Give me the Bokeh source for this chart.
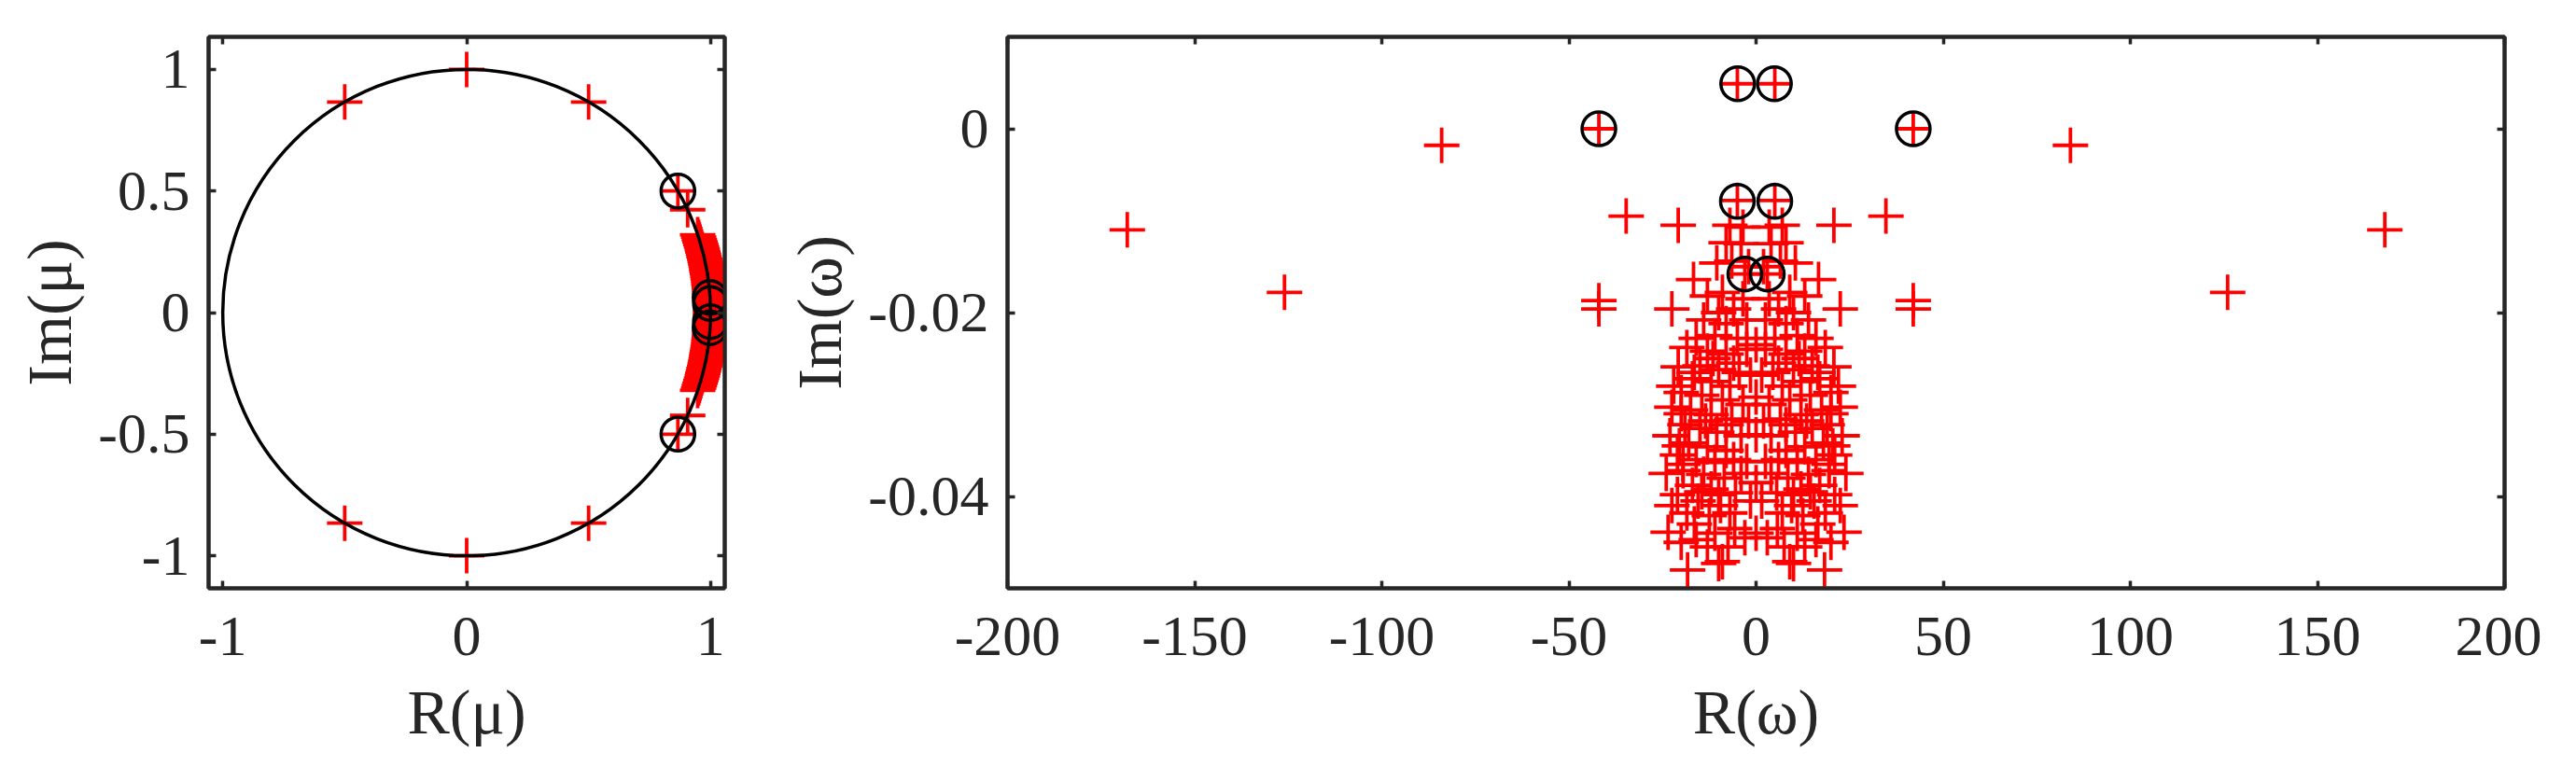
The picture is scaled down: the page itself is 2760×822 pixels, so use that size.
from bokeh.plotting import figure
from bokeh.layouts import row
from bokeh.models import Range1d, FixedTicker, LinearAxis, CustomLabelingPolicy
from bokeh.embed import file_html
from bokeh.resources import INLINE

# ---------------- data: left panel (mu plane) ----------------
mu_plus_re = [0.0, 0.0, -0.5, -0.5, 0.5, 0.5, 0.866, 0.866, 0.906, 0.906]
mu_plus_im = [1.0, -1.0, 0.866, -0.866, 0.866, -0.866, 0.5, -0.5, 0.423, -0.423]

mu_band_im = [0.32, 0.31, 0.30, 0.29, 0.28, 0.27, 0.26, 0.25, 0.24, 0.23, 0.22,
              0.21, 0.20, 0.19, 0.18, 0.17, 0.16, 0.15, 0.14, 0.13, 0.12, 0.11,
              0.10, 0.09, 0.08, 0.07, 0.06, 0.05, 0.04, 0.03, 0.02, 0.01, 0.0,
              -0.01, -0.02, -0.03, -0.04, -0.05, -0.06, -0.07, -0.08, -0.09, -0.10,
              -0.11, -0.12, -0.13, -0.14, -0.15, -0.16, -0.17, -0.18, -0.19, -0.20,
              -0.21, -0.22, -0.23, -0.24, -0.25, -0.26, -0.27, -0.28, -0.29, -0.30,
              -0.31, -0.32]
mu_band_re = [0.947, 0.951, 0.954, 0.957, 0.960, 0.963, 0.966, 0.968, 0.971, 0.973, 0.976,
              0.978, 0.980, 0.982, 0.984, 0.985, 0.987, 0.989, 0.990, 0.992, 0.993, 0.994,
              0.995, 0.996, 0.997, 0.998, 0.998, 0.999, 0.999, 1.000, 1.000, 1.000, 1.000,
              1.000, 1.000, 1.000, 0.999, 0.999, 0.998, 0.998, 0.997, 0.996, 0.995,
              0.994, 0.993, 0.992, 0.990, 0.989, 0.987, 0.985, 0.984, 0.982, 0.980,
              0.978, 0.976, 0.973, 0.971, 0.968, 0.966, 0.963, 0.960, 0.957, 0.954,
              0.951, 0.947]

mu_circ_re = [0.866, 0.866, 0.998, 0.998, 0.9993, 0.9993]
mu_circ_im = [0.5, -0.5, 0.062, -0.062, 0.037, -0.037]

unit_circle_center = (0.0, 0.0)
unit_circle_diameter = 2.0

# ---------------- data: right panel (omega plane) ----------------
om_sparse_re = [-168, 168, -126, 126, -84, 84, -42, 42, -42, 42, -42, 42,
                -34.7, 34.7, -20.8, 20.8, -22.5, 22.5, -16.7, 16.7]
om_sparse_im = [-0.0110, -0.0110, -0.0178, -0.0178, -0.0018, -0.0018,
                0.0, 0.0, -0.0187, -0.0187, -0.0196, -0.0196,
                -0.0095, -0.0095, -0.0105, -0.0105, -0.0196, -0.0196, -0.0164, -0.0164]

om_cluster_re = [
    5.0, 3.0, 5.0, 3.5, 7.0, 4.0, 8.0, 6.5, 10.5, 2.0, 9.0, 3.5, 13.0, 6.0, 10.0,
    2.5, 8.0, 14.0, 16.0, 11.0, 5.0, 18.5, 13.0, 8.0, 2.5, 20.8, 15.0, 10.0, 4.5,
    17.0, 12.0, 7.0, 20.0, 14.5, 9.0, 3.5, 22.5, 17.5, 12.0, 6.5, 19.0, 15.0, 10.5,
    4.0, 23.0, 18.0, 13.0, 8.0, 21.0, 16.0, 11.0, 2.5, 19.5, 14.0, 8.5, 17.0, 12.0,
    5.5, 21.0, 15.5, 9.5, 18.5, 12.5, 7.0, 23.5, 16.0, 5.7, 11.0, 20.0, 18.3, 9.0, 10.0,
    1.5, 6.0, 11.5, 16.5, 22.0, 2.0, 8.0, 13.5, 20.5, 6.0, 1.5, 4.0, 10.0, 14.5,
    22.5, 3.0, 13.0, 16.5, 7.5, 19.5, 24.0, 20.0,
    -5.0, -3.0, -5.0, -3.5, -7.0, -4.0, -8.0, -6.5, -10.5, -2.0, -9.0, -3.5, -13.0, -6.0, -10.0,
    -2.5, -8.0, -14.0, -16.0, -11.0, -5.0, -18.5, -13.0, -8.0, -2.5, -20.8, -15.0, -10.0, -4.5,
    -17.0, -12.0, -7.0, -20.0, -14.5, -9.0, -3.5, -22.5, -17.5, -12.0, -6.5, -19.0, -15.0, -10.5,
    -4.0, -23.0, -18.0, -13.0, -8.0, -21.0, -16.0, -11.0, -2.5, -19.5, -14.0, -8.5, -17.0, -12.0,
    -5.5, -21.0, -15.5, -9.5, -18.5, -12.5, -7.0, -23.5, -16.0, -5.7, -11.0, -20.0, -18.3, -9.0, -10.0,
    -1.5, -6.0, -11.5, -16.5, -22.0, -2.0, -8.0, -13.5, -20.5, -6.0, -1.5, -4.0, -10.0, -14.5,
    -22.5, -3.0, -13.0, -16.5, -7.5, -19.5, -24.0, -20.0,
    0.0, 0.0, 0.0, 0.0, 0.0]
om_cluster_im = [
    -0.0078, -0.0158, 0.0049, -0.0107, -0.0105, -0.0125, -0.0124, -0.0144, -0.0146, -0.0150,
    -0.0178, -0.0185, -0.0182, -0.0196, -0.0200,
    -0.0208, -0.0212, -0.0208, -0.0228, -0.0225, -0.0228, -0.0238, -0.0242, -0.0245, -0.0240,
    -0.0259, -0.0258, -0.0262, -0.0265,
    -0.0272, -0.0275, -0.0280, -0.0287, -0.0290, -0.0295, -0.0300, -0.0303, -0.0306, -0.0311,
    -0.0316, -0.0322, -0.0326, -0.0330,
    -0.0334, -0.0334, -0.0342, -0.0346, -0.0350, -0.0355, -0.0360, -0.0363, -0.0362, -0.0372,
    -0.0376, -0.0380, -0.0388, -0.0392,
    -0.0396, -0.0398, -0.0405, -0.0410, -0.0418, -0.0421, -0.0418, -0.0439, -0.0447, -0.0435,
    -0.0440, -0.0450, -0.0480, -0.0471, -0.0473,
    -0.0268, -0.0255, -0.0250, -0.0265, -0.0280, -0.0318, -0.0322, -0.0318, -0.0345, -0.0360,
    -0.0405, -0.0375, -0.0398, -0.0395, -0.0410, -0.0445, -0.0455, -0.0430, -0.0455, -0.0365,
    -0.0375, -0.0310,
    -0.0078, -0.0158, 0.0049, -0.0107, -0.0105, -0.0125, -0.0124, -0.0144, -0.0146, -0.0150,
    -0.0178, -0.0185, -0.0182, -0.0196, -0.0200,
    -0.0208, -0.0212, -0.0208, -0.0228, -0.0225, -0.0228, -0.0238, -0.0242, -0.0245, -0.0240,
    -0.0259, -0.0258, -0.0262, -0.0265,
    -0.0272, -0.0275, -0.0280, -0.0287, -0.0290, -0.0295, -0.0300, -0.0303, -0.0306, -0.0311,
    -0.0316, -0.0322, -0.0326, -0.0330,
    -0.0334, -0.0334, -0.0342, -0.0346, -0.0350, -0.0355, -0.0360, -0.0363, -0.0362, -0.0372,
    -0.0376, -0.0380, -0.0388, -0.0392,
    -0.0396, -0.0398, -0.0405, -0.0410, -0.0418, -0.0421, -0.0418, -0.0439, -0.0447, -0.0435,
    -0.0440, -0.0450, -0.0480, -0.0471, -0.0473,
    -0.0268, -0.0255, -0.0250, -0.0265, -0.0280, -0.0318, -0.0322, -0.0318, -0.0345, -0.0360,
    -0.0405, -0.0375, -0.0398, -0.0395, -0.0410, -0.0445, -0.0455, -0.0430, -0.0455, -0.0365,
    -0.0375, -0.0310,
    -0.0235, -0.0292, -0.0333, -0.0385, -0.0440]

om_circ_re = [-4.9, 4.9, -42.0, 42.0, -5.0, 5.0, -3.0, 3.0]
om_circ_im = [0.0049, 0.0049, 0.0, 0.0, -0.0079, -0.0079, -0.0158, -0.0158]

# ---------------- ticks & labels ----------------
left_xticks = [-1.0, 0.0, 1.0]
left_xticklabels = ["-1", "0", "1"]
left_yticks = [-1.0, -0.5, 0.0, 0.5, 1.0]
left_yticklabels = ["-1", "-0.5", "0", "0.5", "1"]
right_xticks = [-200.0, -150.0, -100.0, -50.0, 0.0, 50.0, 100.0, 150.0, 200.0]
right_xticklabels = ["-200", "-150", "-100", "-50", "0", "50", "100", "150", "200"]
right_yticks = [-0.04, -0.02, 0.0]
right_yticklabels = ["-0.04", "-0.02", "0"]

FONT = "Liberation Serif"
AXC = "#262626"
TICK_FS = "62px"
LABEL_FS = "68px"
RED = "#ff0000"
CROSS_SIZE = 38
CROSS_LW = 3.8
CIRC_SIZE = 36
CIRC_LW = 3.5


def style(p, xt, xl, yt, yl, xlab, ylab):
    p.add_layout(LinearAxis(), "above")
    p.add_layout(LinearAxis(), "right")
    for ax in list(p.xaxis) + list(p.yaxis):
        ax.axis_line_color = AXC
        ax.axis_line_width = 4
        ax.major_tick_line_color = AXC
        ax.major_tick_line_width = 3.5
        ax.major_tick_in = 8
        ax.major_tick_out = 0
        ax.minor_tick_line_color = None
        ax.major_label_text_font = FONT
        ax.major_label_text_color = AXC
        ax.major_label_text_font_size = TICK_FS
        ax.axis_label_text_font = FONT
        ax.axis_label_text_font_style = "normal"
        ax.axis_label_text_color = AXC
        ax.axis_label_text_font_size = LABEL_FS
    for ax in p.xaxis:
        ax.ticker = FixedTicker(ticks=xt)
        ax.major_label_overrides = dict(zip(xt, xl))
    for ax in p.yaxis:
        ax.ticker = FixedTicker(ticks=yt)
        ax.major_label_overrides = dict(zip(yt, yl))
    b = p.below[0]
    b.axis_label = xlab
    b.major_label_standoff = 31
    b.axis_label_standoff = 20
    l = p.left[0]
    l.axis_label = ylab
    l.major_label_standoff = 20
    l.axis_label_standoff = 11
    for ax in (p.above[0], p.right[0]):
        ax.major_label_text_font_size = "0px"
        ax.major_label_standoff = 0
        ax.axis_label = None
        ax.major_label_policy = CustomLabelingPolicy(
            code="for (const i of indices) { indices.unset(i) }\nreturn indices")
    p.xgrid.visible = False
    p.ygrid.visible = False
    p.outline_line_color = AXC
    p.outline_line_width = 4
    p.background_fill_color = "white"
    p.border_fill_color = "white"


# ---------------- left figure ----------------
p1 = figure(frame_width=553, frame_height=591,
            x_range=Range1d(-1.058, 1.058), y_range=Range1d(-1.134, 1.134),
            toolbar_location=None, output_backend="svg",
            min_border_left=223, min_border_right=10,
            min_border_top=39, min_border_bottom=150)
style(p1, left_xticks, left_xticklabels, left_yticks, left_yticklabels,
      "R(μ)", "Im(μ)")
p1.scatter(mu_band_re, mu_band_im, marker="cross", size=CROSS_SIZE,
           line_color=RED, line_width=CROSS_LW)
p1.scatter(mu_plus_re, mu_plus_im, marker="cross", size=CROSS_SIZE,
           line_color=RED, line_width=CROSS_LW)
p1.ellipse(x=[unit_circle_center[0]], y=[unit_circle_center[1]],
           width=unit_circle_diameter, height=unit_circle_diameter,
           fill_color=None, line_color="black", line_width=3.5)
p1.scatter(mu_circ_re, mu_circ_im, marker="circle", size=CIRC_SIZE,
           fill_color=None, line_color="black", line_width=CIRC_LW)

# ---------------- right figure ----------------
p2 = figure(frame_width=1604, frame_height=591,
            x_range=Range1d(-200, 200), y_range=Range1d(-0.05, 0.01),
            toolbar_location=None, output_backend="svg",
            min_border_left=293, min_border_right=40,
            min_border_top=39, min_border_bottom=150)
style(p2, right_xticks, right_xticklabels, right_yticks, right_yticklabels,
      "R(ω)", "Im(ω)")
p2.scatter(om_sparse_re, om_sparse_im, marker="cross", size=CROSS_SIZE,
           line_color=RED, line_width=CROSS_LW)
p2.scatter(om_cluster_re, om_cluster_im, marker="cross", size=CROSS_SIZE,
           line_color=RED, line_width=CROSS_LW)
p2.scatter(om_circ_re, om_circ_im, marker="circle", size=CIRC_SIZE,
           fill_color=None, line_color="black", line_width=CIRC_LW)

layout = row(p1, p2)
open("out.html", "w").write(file_html(layout, INLINE))
